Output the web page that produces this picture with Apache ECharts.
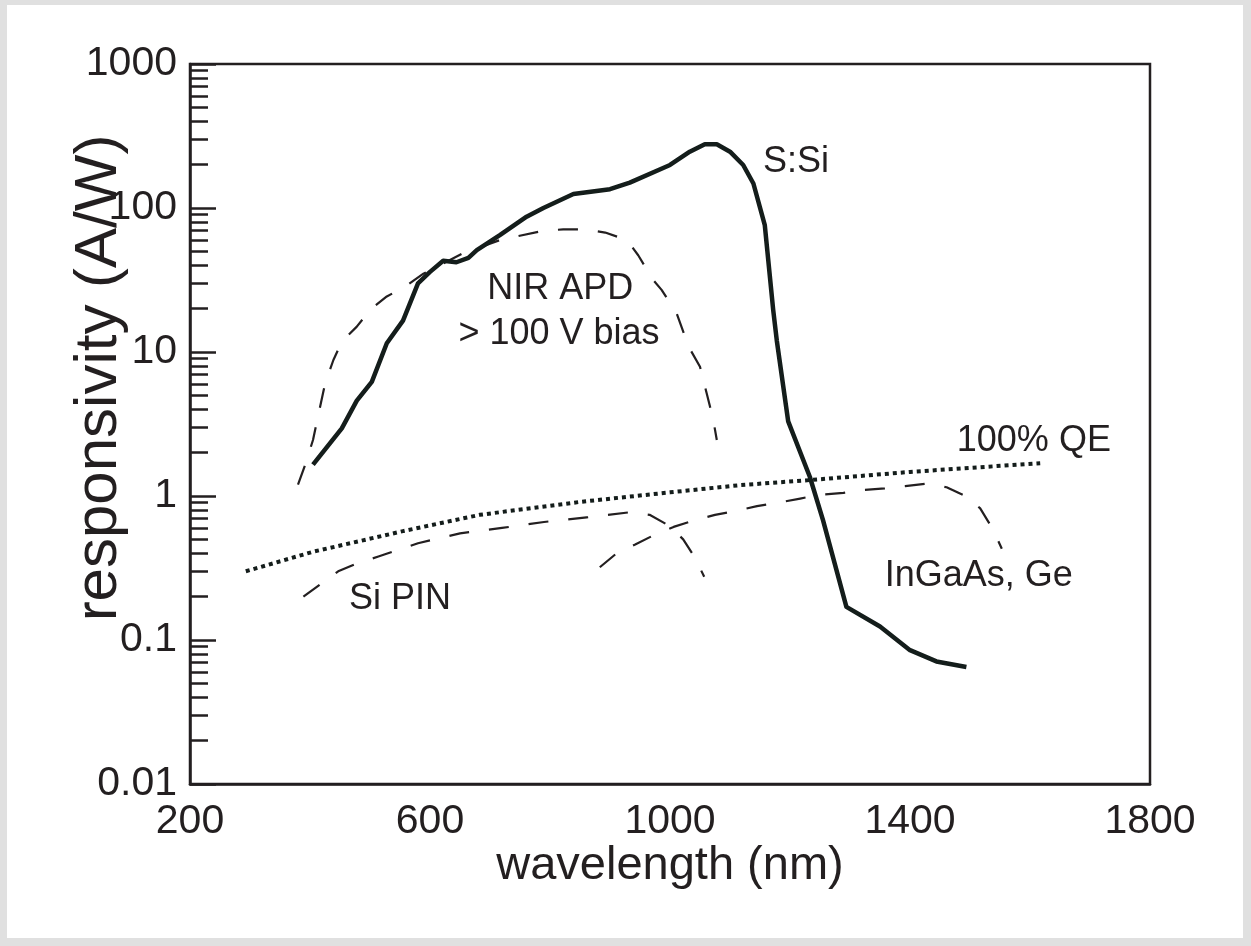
<!DOCTYPE html>
<html>
<head>
<meta charset="utf-8">
<script src="https://cdn.jsdelivr.net/npm/echarts@6/dist/echarts.min.js"></script>
<style>
  html, body { margin: 0; padding: 0; background: #e0e0e0; width: 1251px; height: 946px; overflow: hidden; }
  #c { position: absolute; left: 7px; top: 5px; width: 1236px; height: 933px; background: #ffffff; }
</style>
</head>
<body>
<div id="c"></div>
<script>
// ---- data ----
const xTicks = [200, 600, 1000, 1400, 1800];
const yTicks = [0.01, 0.1, 1, 10, 100, 1000];
const yMinorTicks = [
  0.02,0.03,0.04,0.05,0.06,0.07,0.08,0.09,
  0.2,0.3,0.4,0.5,0.6,0.7,0.8,0.9,
  2,3,4,5,6,7,8,9,
  20,30,40,50,60,70,80,90,
  200,300,400,500,600,700,800,900
];

// S:Si photoconductor (solid)
const sSi = [
  [405,1.65],[453,2.95],[478,4.6],[503,6.2],[528,11.5],[555,16.5],[580,30],[600,36],
  [622,43],[644,42],[664,45],[678,51],[717,65],[761,87],[789,100],[839,125],[900,135],
  [933,150],[1000,199],[1033,246],[1058,277],[1078,277],[1100,246],[1122,199],[1139,148],
  [1158,76],[1172,19.6],[1178,12],[1197,3.3],[1233,1.36],[1255,0.68],[1294,0.17],
  [1350,0.124],[1400,0.085],[1444,0.071],[1494,0.065]
];
// NIR APD > 100 V bias (dashed)
const nirApd = [
  [380,1.2],[392,1.65],[405,2.45],[425,6],[439,8.8],[453,11.8],[478,15],[500,19.6],
  [528,24.3],[558,28.4],[589,35],[653,48],[717,60],[789,69.5],[822,71],[858,71],
  [892,67.5],[928,60],[947,47],[972,31.6],[986,27],[1011,18.6],[1031,10.9],[1050,7.9],
  [1061,5.2],[1072,3.4],[1078,2.45]
];
// Si PIN (dashed)
const siPin = [
  [389,0.20],[447,0.30],[478,0.34],[514,0.38],[580,0.47],[650,0.55],[720,0.60],[790,0.66],
  [861,0.71],[932,0.77],[966,0.74],[999,0.62],[1022,0.50],[1042,0.37],[1057,0.275]
];
// InGaAs, Ge (dashed)
const inGaAs = [
  [883,0.32],[911,0.40],[942,0.46],[975,0.54],[1006,0.61],[1042,0.68],[1075,0.74],[1111,0.79],
  [1145,0.85],[1181,0.90],[1217,0.96],[1250,1.02],[1289,1.05],[1322,1.10],[1358,1.13],
  [1392,1.17],[1428,1.22],[1461,1.15],[1495,0.99],[1517,0.82],[1539,0.58],[1553,0.43]
];
// 100% QE (dotted)
const qe100 = [
  [293,0.30],[405,0.41],[555,0.57],[683,0.74],[850,0.91],[1000,1.06],[1117,1.19],
  [1233,1.29],[1400,1.47],[1617,1.69]
];
// annotations anchored at data coordinates
const notes = [
  { text: 'S:Si',          at: [1155, 210],  align: 'left'   },
  { text: 'NIR APD',       at: [817, 27.4],  align: 'center' },
  { text: '> 100 V bias',  at: [815, 13.4],  align: 'center' },
  { text: '100% QE',       at: [1478, 2.42], align: 'left'   },
  { text: 'InGaAs, Ge',    at: [1358, 0.276],align: 'left'   },
  { text: 'Si PIN',        at: [465, 0.193], align: 'left'   }
];
const xTitle = 'wavelength (nm)';
const yTitle = 'responsivity (A/W)';

// ---- chart ----
const FONT = "'Liberation Sans', Arial, Helvetica, sans-serif";
const INK = '#231f20';
const LINE = '#141d1b';
const chart = echarts.init(document.getElementById('c'), null, { renderer: 'canvas' });

function lineSeries(name, data, width, type, color, z) {
  return {
    name, type: 'line', data, showSymbol: false, symbol: 'none', smooth: false,
    z: z, silent: true, animation: false,
    lineStyle: { color: color, width: width, type: type, cap: 'butt', join: 'round' }
  };
}

chart.setOption({
  animation: false,
  backgroundColor: '#ffffff',
  grid: { left: 183, top: 59, width: 960, height: 720, show: true, borderColor: INK, borderWidth: 2.5, backgroundColor: 'transparent' },
  xAxis: {
    type: 'value', min: xTicks[0], max: xTicks[xTicks.length - 1], interval: 400,
    axisLine: { show: true, lineStyle: { color: INK, width: 2.5 } },
    axisTick: { show: false },
    splitLine: { show: false },
    axisLabel: { color: INK, fontFamily: FONT, fontSize: 41, margin: 17,
      customValues: xTicks,
      formatter: function (v) { return String(v); } }
  },
  yAxis: [
    {
      type: 'log', logBase: 10, min: yTicks[0], max: yTicks[yTicks.length - 1], position: 'left',
      axisLine: { show: true, lineStyle: { color: INK, width: 2.5 } },
      axisTick: { show: true, inside: true, length: 26, lineStyle: { color: INK, width: 2.5 } },
      splitLine: { show: false },
      axisLabel: { color: INK, fontFamily: FONT, fontSize: 41, margin: 13,
        formatter: function (v) { return String(+(+v).toPrecision(3)); } }
    },
    {
      type: 'log', logBase: 10, min: yTicks[0], max: yTicks[yTicks.length - 1], position: 'left', offset: 0,
      axisLine: { show: false },
      axisTick: { show: true, inside: true, length: 18, customValues: yMinorTicks, lineStyle: { color: INK, width: 2.5 } },
      axisLabel: { show: false },
      splitLine: { show: false }
    }
  ],
  series: [
    lineSeries('100% QE', qe100, 4, [4, 4], LINE, 3),
    lineSeries('Si PIN', siPin, 2.2, [20, 20], INK, 4),
    lineSeries('InGaAs, Ge', inGaAs, 2.2, [20, 20], INK, 4),
    lineSeries('NIR APD', nirApd, 2.2, [20, 20], INK, 4),
    lineSeries('S:Si', sSi, 4.5, 'solid', LINE, 5)
  ]
});

const graphics = notes.map(function (n) {
  const p = chart.convertToPixel({ gridIndex: 0 }, n.at);
  return {
    type: 'text', x: p[0], y: p[1], silent: true, z: 10,
    style: { text: n.text, fill: INK, font: '36px ' + FONT, align: n.align, verticalAlign: 'middle' }
  };
});
graphics.push({
  type: 'text', x: 663, y: 861, silent: true, z: 10,
  style: { text: xTitle, fill: INK, font: '47px ' + FONT, align: 'center', verticalAlign: 'middle' }
});
graphics.push({
  type: 'text', x: 92, y: 373, rotation: Math.PI / 2, silent: true, z: 10,
  style: { text: yTitle, fill: INK, font: '60px ' + FONT, align: 'center', verticalAlign: 'middle' }
});
chart.setOption({ graphic: graphics });
</script>
</body>
</html>
